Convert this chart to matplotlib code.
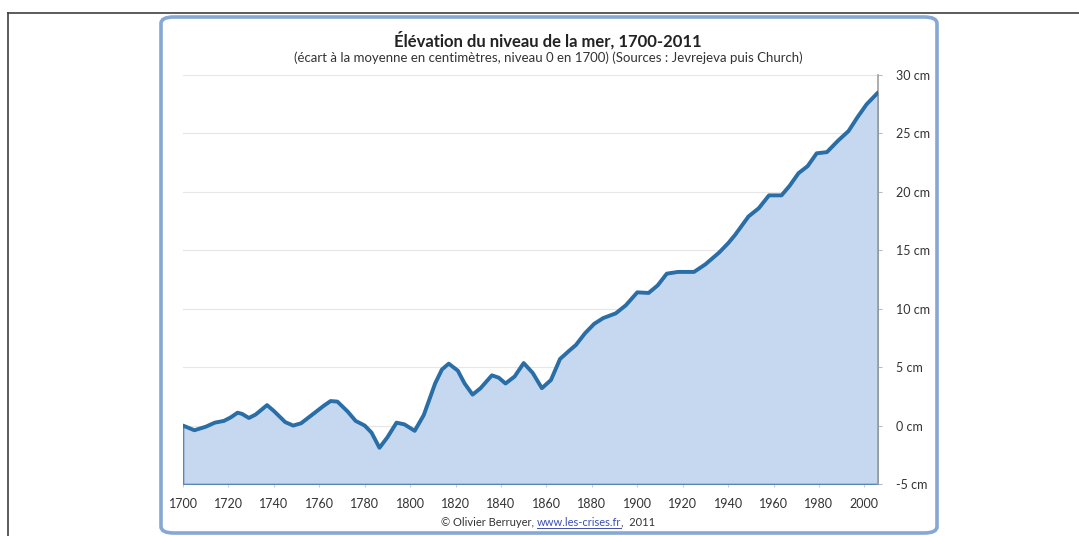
import matplotlib.pyplot as plt
from matplotlib.patches import FancyBboxPatch
from matplotlib.lines import Line2D
import numpy as np

plt.rcParams['font.family'] = ['Lato', 'DejaVu Sans']

# sea level rise, cm relative to 1700
years = [1700, 1705, 1710, 1714, 1718, 1721, 1724, 1726, 1729, 1732, 1737, 1740,
         1745, 1748.5, 1752, 1758, 1762, 1765, 1768, 1772.5, 1776, 1780, 1783, 1786.5,
         1790, 1794, 1797.5, 1802, 1806, 1811, 1814, 1817, 1821, 1824, 1827.5, 1831,
         1836, 1839, 1842, 1846, 1850, 1854, 1858, 1862, 1866, 1870, 1873, 1877,
         1881, 1885, 1890.5, 1895, 1900, 1905, 1909, 1913, 1918, 1925, 1930, 1936,
         1940, 1943, 1949, 1953.5, 1958, 1963.5, 1967, 1971, 1975, 1979, 1983.5, 1988.5,
         1993, 1997, 2001, 2006]
level = [0.0, -0.4, -0.1, 0.25, 0.4, 0.7, 1.1, 1.0, 0.65, 0.95, 1.75, 1.25,
         0.3, 0.0, 0.2, 1.1, 1.7, 2.1, 2.05, 1.2, 0.4, 0.0, -0.6, -1.9,
         -1.0, 0.25, 0.1, -0.45, 0.9, 3.6, 4.8, 5.3, 4.7, 3.6, 2.65, 3.2,
         4.3, 4.1, 3.6, 4.2, 5.35, 4.5, 3.2, 3.9, 5.7, 6.4, 6.9, 7.9,
         8.7, 9.2, 9.6, 10.3, 11.4, 11.35, 12.0, 13.0, 13.15, 13.15, 13.8, 14.8,
         15.6, 16.3, 17.9, 18.6, 19.7, 19.7, 20.5, 21.6, 22.2, 23.3, 23.4, 24.4,
         25.2, 26.4, 27.5, 28.5]

xticks = list(range(1700, 2001, 20))
yticks = list(range(-5, 31, 5))

W, H = 1079, 536
fig = plt.figure(figsize=(W / 100, H / 100), dpi=100)

# outer frame (top and left only visible)
fig.add_artist(Line2D([8 / W, 1.0], [1 - 13 / H, 1 - 13 / H], color='#404040', lw=1.2))
fig.add_artist(Line2D([8 / W, 8 / W], [0, 1 - 13 / H], color='#404040', lw=1.2))

# rounded chart panel
panel = FancyBboxPatch((161 / W, 1 - 533 / H), (937 - 161) / W, (533 - 17) / H,
                       boxstyle='round,pad=0,rounding_size=0.012',
                       transform=fig.transFigure, facecolor='white',
                       edgecolor='#86a8d4', lw=2.6, zorder=0)
fig.add_artist(panel)

ax = fig.add_axes([183 / W, 1 - 484 / H, (878 - 183) / W, (484 - 75) / H])
ax.set_facecolor('none')
x = np.array(years)
y = np.array(level)
ax.fill_between(x, y, -5, facecolor='#c5d8ef', edgecolor='#5a86b5', lw=1.2, zorder=1)
ax.plot(x, y, color='#2a6ea8', lw=2.8, solid_capstyle='round',
        solid_joinstyle='round', zorder=3)

ax.set_xlim(1700, 2006)
ax.set_ylim(-5, 30)
ax.set_xticks(xticks)
ax.set_xticklabels([str(t) for t in xticks], fontsize=9, color='#333333')
ax.set_yticks(yticks)
ax.set_yticklabels([f'{t} cm' for t in yticks], fontsize=9, color='#333333')
ax.yaxis.tick_right()
ax.tick_params(axis='y', length=3, color='#bbbbbb', pad=10)
ax.tick_params(axis='x', length=2, color='#cccccc', pad=8)
ax.grid(axis='y', color='#e6e6e6', lw=0.8, zorder=0)
ax.set_axisbelow(True)
for side in ['top', 'left', 'bottom']:
    ax.spines[side].set_visible(False)
ax.spines['right'].set_color('#a0a0a0')
ax.spines['right'].set_linewidth(1.2)

fig.text(548 / W, 1 - 40 / H, 'Élévation du niveau de la mer, 1700-2011',
         ha='center', va='center', fontsize=12, fontweight='bold', color='#222222')
fig.text(548 / W, 1 - 58 / H,
         '(écart à la moyenne en centimètres, niveau 0 en 1700) (Sources : Jevrejeva puis Church)',
         ha='center', va='center', fontsize=9.5, color='#333333')

# footer with underlined link
fig.canvas.draw()
r = fig.canvas.get_renderer()
parts = [('© Olivier Berruyer, ', '#333333', False),
         ('www.les-crises.fr', '#3b4fb0', True),
         (',  2011', '#333333', False)]
texts = [fig.text(0, 1 - 522 / H, p, fontsize=8, color=c, va='center') for p, c, u in parts]
widths = [t.get_window_extent(r).width for t in texts]
x0 = 548 - sum(widths) / 2
for t, w, (p, c, u) in zip(texts, widths, parts):
    t.set_x(x0 / W)
    if u:
        fig.add_artist(Line2D([x0 / W, (x0 + w) / W], [1 - 528 / H] * 2, color=c, lw=0.7))
    x0 += w

fig.savefig('out.png', dpi=100)
